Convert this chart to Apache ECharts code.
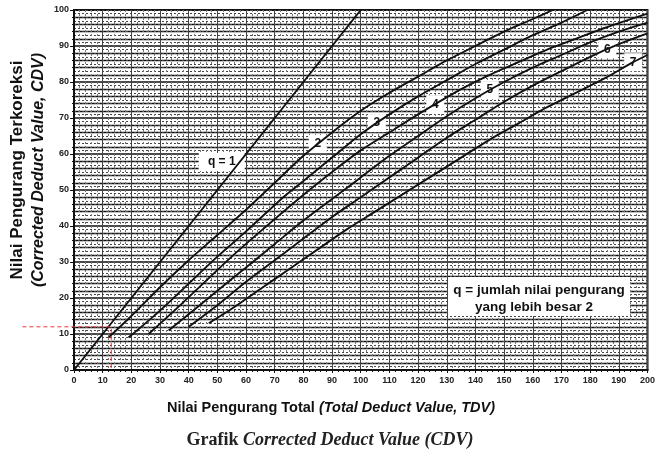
<!DOCTYPE html>
<html><head><meta charset="utf-8">
<script src="https://cdn.jsdelivr.net/npm/echarts@6/dist/echarts.min.js"></script>
<style>html,body{margin:0;padding:0;background:#fff}#c{width:658px;height:459px}</style>
</head><body><div id="c"></div>
<script>
// ---- data ----
const curveLabels = ['q = 1', '2', '3', '4', '5', '6', '7'];
const q1 = [[0,0],[100,100]];
const q2 = [[12,9],[20,15],[30,23],[40,30.5],[50,37.5],[60,44.5],[70,52],[80,59.5],[90,66],[100,72],[110,77],[120,81.5],[130,86],[140,90],[150,94],[160,97.5],[167,100]];
const q3 = [[19,9],[30,16.5],[40,24],[50,31.5],[60,38.5],[73,48],[80,52.5],[90,59],[100,65.5],[110,71],[120,76],[130,80.5],[140,85],[150,89],[160,93],[170,96.5],[179,100]];
const q4 = [[26,10],[35,16.5],[45,24],[55,31.5],[65,38.5],[79,48],[90,55],[100,61],[110,66],[120,71],[135,78],[145,82],[155,85.5],[165,89],[175,92],[185,95],[200,99]];
const q5 = [[33,11],[40,15.5],[50,22],[60,28.5],[70,35],[80,41.5],[90,47.5],[100,53.5],[110,59.5],[120,65],[130,70.5],[140,75.5],[150,80],[160,84],[170,87.5],[180,91],[190,94],[200,96.5]];
const q6 = [[40,12],[50,18],[60,24.5],[70,30.5],[80,36.5],[90,42.5],[100,48],[110,53.5],[120,59],[130,64.5],[140,69.5],[150,74.5],[160,79],[170,83],[180,87],[190,90.5],[200,93.5]];
const q7 = [[47,13],[55,17],[65,22.5],[75,28],[85,33.5],[95,39],[105,44],[115,49],[125,54],[135,59],[145,64],[155,68.5],[165,73],[175,77],[185,81],[195,85.5],[200,87.5]];
const curves = [q1, q2, q3, q4, q5, q6, q7];
const labelX = [57.8, 85, 105.6, 126, 145, 186, 195];
const readLine = [[-18,12],[13,12],[13,0]];
const xTickValues = [0,10,20,30,40,50,60,70,80,90,100,110,120,130,140,150,160,170,180,190,200];
const yTickValues = [0,10,20,30,40,50,60,70,80,90,100];
const noteLines = ['q = jumlah nilai pengurang', 'yang lebih besar 2'];

function yAt(arr, x) {
  for (let i = 0; i < arr.length - 1; i++) {
    const a = arr[i], b = arr[i+1];
    if (x >= a[0] && x <= b[0]) return a[1] + (b[1]-a[1])*(x-a[0])/(b[0]-a[0]);
  }
  return arr[arr.length-1][1];
}

const chart = echarts.init(document.getElementById('c'));
const series = curves.map((d, i) => ({
  type: 'line', data: d, smooth: 0.3, showSymbol: false, silent: true,
  lineStyle: { color: '#111', width: 1.9 },
  z: 5,
  markPoint: {
    symbol: 'rect', symbolSize: i === 0 ? [46, 18] : [18, 18],
    symbolOffset: i === 0 ? [-18, 0] : [0, 0],
    itemStyle: { color: '#fff' },
    label: { show: true, color: '#111', fontWeight: 'bold', fontSize: 12, fontFamily: 'Liberation Sans',
             formatter: curveLabels[i] },
    data: [{ coord: [labelX[i], yAt(d, labelX[i])] }]
  }
}));

chart.setOption({
  animation: false,
  backgroundColor: '#fff',
  grid: { left: 74, right: 10, top: 10, bottom: 89, show: true, borderColor: '#111', borderWidth: 2 },
  xAxis: {
    type: 'value', min: 0, max: 200, interval: 10,
    axisLine: { lineStyle: { color: '#111', width: 2 } },
    axisTick: { show: true, length: 3, lineStyle: { color: '#111' } },
    axisLabel: { fontSize: 9, fontWeight: 'bold', color: '#222', margin: 6, fontFamily: 'Liberation Sans',
      formatter: v => xTickValues.includes(v) ? String(v) : '' },
    splitLine: { show: true, lineStyle: { color: '#444', width: 1 } },
    minorTick: { show: true, splitNumber: 5, length: 2 },
    minorSplitLine: { show: true, lineStyle: { color: '#777', width: 1, type: [2, 2] } }
  },
  yAxis: [{
    type: 'value', min: 0, max: 100, interval: 10,
    axisLine: { show: true, lineStyle: { color: '#111', width: 2 } },
    axisTick: { show: true, length: 4, lineStyle: { color: '#111' } },
    axisLabel: { fontSize: 9, fontWeight: 'bold', color: '#222', margin: 5, fontFamily: 'Liberation Sans',
      formatter: v => yTickValues.includes(v) ? String(v) : '' },
    splitLine: { show: true, lineStyle: { color: '#111', width: 1.7 } },
    minorTick: { show: true, splitNumber: 5, length: 2 },
    minorSplitLine: { show: true, lineStyle: { color: '#111', width: 1.4 } }
  }, {
    type: 'value', min: 0, max: 100, interval: 1, position: 'left',
    axisLine: { show: false }, axisTick: { show: false }, axisLabel: { show: false },
    splitLine: { show: true, lineStyle: { color: '#444', width: 1, type: [2, 2] } }
  }],
  series: series,
  graphic: [
    { id: 'noteBox', type: 'rect', left: 448, top: 277, shape: { width: 182, height: 39 }, style: { fill: '#fff' }, z: 10 },
    { id: 'note1', type: 'text', x: 539, y: 290, z: 11, style: { text: noteLines[0], font: 'bold 13.5px "Liberation Sans"', fill: '#111', align: 'center', verticalAlign: 'middle' } },
    { id: 'note2', type: 'text', x: 534, y: 307, z: 11, style: { text: noteLines[1], font: 'bold 13.5px "Liberation Sans"', fill: '#111', align: 'center', verticalAlign: 'middle' } },
    { id: 'yt1', type: 'text', x: 17, y: 170, rotation: Math.PI/2, z: 11, style: { text: 'Nilai Pengurang Terkoreksi', font: 'bold 17px "Liberation Sans"', fill: '#111', align: 'center', verticalAlign: 'middle' } },
    { id: 'yt2', type: 'text', x: 39, y: 170, rotation: Math.PI/2, z: 11, style: { text: '(Corrected Deduct Value, CDV)', font: 'italic bold 16px "Liberation Sans"', fill: '#111', align: 'center', verticalAlign: 'middle' } },
    { id: 'xt', type: 'text', x: 331, y: 408, z: 11, style: {
        text: '{a|Nilai Pengurang Total }{b|(Total Deduct Value, TDV)}', align: 'center', verticalAlign: 'middle',
        rich: { a: { font: 'bold 14.5px "Liberation Sans"', fill: '#111' }, b: { font: 'italic bold 14.5px "Liberation Sans"', fill: '#111' } } } },
    { id: 'cap', type: 'text', x: 330, y: 440, z: 11, style: {
        text: '{a|Grafik }{b|Corrected Deduct Value (CDV)}', align: 'center', verticalAlign: 'middle',
        rich: { a: { font: 'bold 18px "Liberation Serif"', fill: '#222' }, b: { font: 'italic bold 18px "Liberation Serif"', fill: '#222' } } } }
  ]
});

// red dashed reading line, positioned through the chart's own scales
const pts = readLine.map(p => chart.convertToPixel({ gridIndex: 0 }, p));
chart.setOption({
  graphic: [{
    id: 'readLine', type: 'polyline', z: 12, silent: true,
    shape: { points: pts },
    style: { stroke: '#e23a3a', lineWidth: 1, lineDash: [4, 3], fill: null }
  }]
});
</script></body></html>
